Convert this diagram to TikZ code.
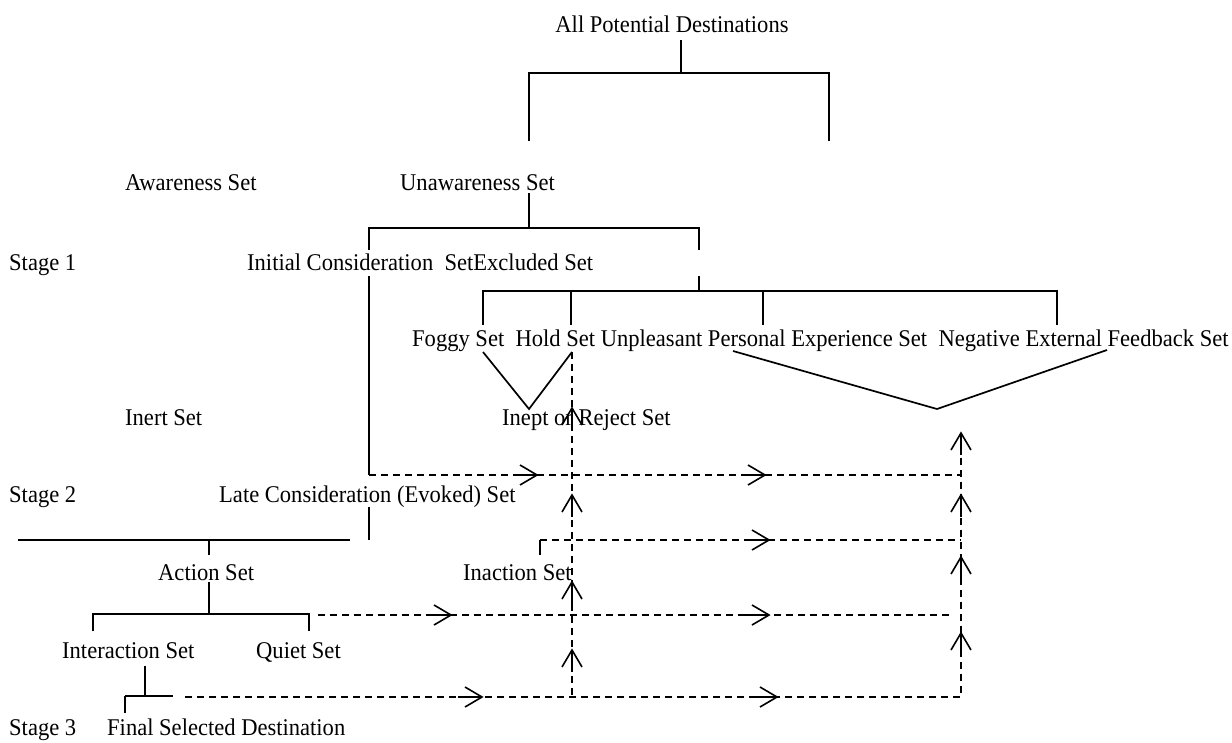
\documentclass[tikz,border=0pt]{standalone}
\usepackage{fontspec}
\setmainfont{Liberation Serif}[FakeStretch=0.94]
\begin{document}
\begin{tikzpicture}[x=1pt,y=-1pt,
  lbl/.style={inner sep=0pt, anchor=base west, font=\fontsize{24}{28}\selectfont},
  solidln/.style={line width=1.7pt},
  dashln/.style={line width=1.5pt, dash pattern=on 7pt off 5pt},
  rarr/.pic={\draw[line width=1.6pt] (-24,0) -- (0,0); \draw[line width=1.6pt] (-17,-10) -- (0,0) -- (-17,10);},
  uarr/.pic={\draw[line width=1.6pt] (0,22) -- (0,0); \draw[line width=1.6pt] (-10,17) -- (0,0) -- (10,17);}
]
\useasboundingbox[fill=white] (0,0) rectangle (1232,742);

% texts
\node[lbl, anchor=base] (all) at (672,32) {All Potential Destinations};
\node[lbl] (aware) at (125,190) {Awareness Set};
\node[lbl] (unaware) at (400,190) {Unawareness Set};
\node[lbl] (stage1) at (9,270) {Stage 1};
\node[lbl] (initial) at (247,270) {Initial Consideration~ SetExcluded Set};
\node[lbl] (row) at (412,346) {Foggy Set~ Hold Set Unpleasant Personal Experience Set~ Negative External Feedback Set};
\node[lbl] (inert) at (125,425) {Inert Set};
\node[lbl] (inept) at (502,425) {Inept or Reject Set};
\node[lbl] (stage2) at (9,502) {Stage 2};
\node[lbl] (late) at (219,502) {Late Consideration (Evoked) Set};
\node[lbl] (action) at (158,580) {Action Set};
\node[lbl] (inaction) at (463,580) {Inaction Set};
\node[lbl] (interaction) at (62,658) {Interaction Set};
\node[lbl] (quiet) at (256,658) {Quiet Set};
\node[lbl] (stage3) at (9,735) {Stage 3};
\node[lbl] (final) at (107,735) {Final Selected Destination};

% coordinates
\coordinate (a0) at (681,40); \coordinate (a1) at (681,73);
\coordinate (al) at (529,73); \coordinate (ar) at (829,73);
\coordinate (alb) at (529,141); \coordinate (arb) at (829,141);
\coordinate (u0) at (529,193); \coordinate (u1) at (529,228);
\coordinate (ul) at (369,228); \coordinate (ur) at (699,228);
\coordinate (ulb) at (369,250); \coordinate (urb) at (699,250);
\coordinate (ic0) at (369,276); \coordinate (ic1) at (369,475);
\coordinate (ex0) at (699,276); \coordinate (ex1) at (699,291);
\coordinate (el) at (483,291); \coordinate (er) at (1057,291);
\coordinate (elb) at (483,325); \coordinate (erb) at (1057,325);
\coordinate (eh) at (571,291); \coordinate (ehb) at (571,325);
\coordinate (eu) at (763,291); \coordinate (eub) at (763,325);
\coordinate (v1) at (483,352); \coordinate (v2) at (529,409); \coordinate (v3) at (572,352);
\coordinate (w1) at (733,351); \coordinate (w2) at (937,409); \coordinate (w3) at (1107,350);
\coordinate (lh1) at (18,540); \coordinate (lh2) at (350,540);
\coordinate (ls0) at (209,540); \coordinate (ls1) at (209,555);
\coordinate (lv0) at (369,507); \coordinate (lv1) at (369,540);
\coordinate (as0) at (209,582); \coordinate (as1) at (209,614);
\coordinate (abl) at (93,631); \coordinate (abl0) at (93,614);
\coordinate (abr0) at (309,614); \coordinate (abr) at (309,631);
\coordinate (is0) at (145,666); \coordinate (is1) at (145,696);
\coordinate (ih1) at (125,696); \coordinate (ih2) at (173,696); \coordinate (il) at (125,713);
\coordinate (ra2) at (961,475);
\coordinate (hd0) at (572,352); \coordinate (hd1) at (572,697);
\coordinate (ri0) at (540,555); \coordinate (ri1) at (540,540); \coordinate (ri2) at (961,540);
\coordinate (rb0) at (318,615); \coordinate (rb1) at (951,615);
\coordinate (rc0) at (185,697); \coordinate (rc1) at (961,697); \coordinate (rc2) at (961,433);

% solid tree lines
\draw[solidln] (a0) -- (a1);
\draw[solidln] (alb) -- (al) -- (ar) -- (arb);
\draw[solidln] (u0) -- (u1);
\draw[solidln] (ulb) -- (ul) -- (ur) -- (urb);
\draw[solidln] (ic0) -- (ic1);
\draw[solidln] (ex0) -- (ex1);
\draw[solidln] (elb) -- (el) -- (er) -- (erb);
\draw[solidln] (eh) -- (ehb);
\draw[solidln] (eu) -- (eub);
\draw[solidln] (v1) -- (v2) -- (v3);
\draw[solidln] (w1) -- (w2) -- (w3);
\draw[solidln] (lh1) -- (lh2);
\draw[solidln] (ls0) -- (ls1);
\draw[solidln] (lv0) -- (lv1);
\draw[solidln] (as0) -- (as1);
\draw[solidln] (abl) -- (abl0) -- (abr0) -- (abr);
\draw[solidln] (is0) -- (is1);
\draw[solidln] (ih1) -- (ih2);
\draw[solidln] (ih1) -- (il);
\draw[solidln] (ri0) -- (ri1);

% dashed flows
\draw[dashln] (ic1) -- (ra2);
\draw[dashln] (hd0) -- (hd1);
\draw[dashln] (ri1) -- (ri2);
\draw[dashln] (rb0) -- (rb1);
\draw[dashln] (rc0) -- (rc1) -- (rc2);

% arrowheads
\pic at (537,475) {rarr};
\pic at (765,475) {rarr};
\pic at (769,540) {rarr};
\pic at (451,615) {rarr};
\pic at (769,615) {rarr};
\pic at (482,697) {rarr};
\pic at (777,697) {rarr};
\pic at (572,408) {uarr};
\pic at (572,495) {uarr};
\pic at (572,582) {uarr};
\pic at (572,650) {uarr};
\pic at (961,433) {uarr};
\pic at (961,495) {uarr};
\pic at (961,557) {uarr};
\pic at (961,633) {uarr};
\end{tikzpicture}
\end{document}
